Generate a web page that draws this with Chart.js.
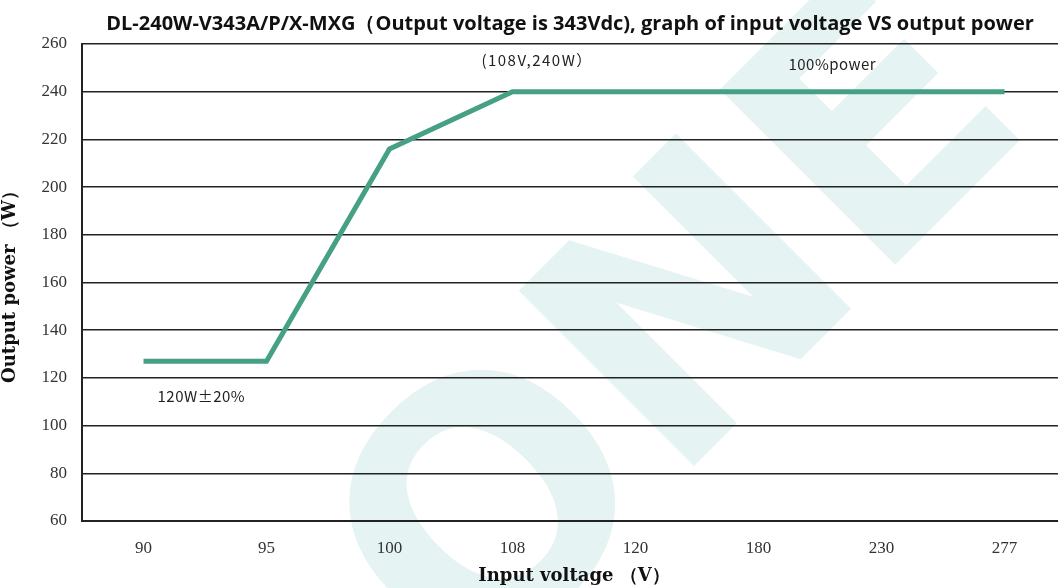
<!DOCTYPE html>
<html lang="en">
<head>
    <meta charset="UTF-8">
    <title>Input voltage VS output power</title>
    <script src="https://cdn.jsdelivr.net/npm/chart.js"></script>
    <style>
        html, body {
            margin: 0;
            padding: 0;
            background: #fff;
            overflow: hidden;
        }
        #wrap {
            width: 1066px;
            height: 588px;
        }
    </style>
</head>
<body>
    <div id="wrap"><canvas id="powerChart"></canvas></div>

    <script>
        // data
        const inputVoltage = ['90', '95', '100', '108', '120', '180', '230', '277'];
        const outputPower = [127, 127, 216, 240, 240, 240, 240, 240];
        const yTicks = [60, 80, 100, 120, 140, 160, 180, 200, 220, 240, 260];

        // notes on the plot: text, category position, value
        const noteText = ['(108V,240W）', '100%power', '120W±20%'];
        const noteAt = [3.2, 5.6, 0.47];
        const noteValue = [253.3, 251.6, 112.4];

        const titleText = 'DL-240W-V343A/P/X-MXG（Output voltage is 343Vdc), graph of input voltage VS output power';

        const extras = {
            id: 'extras',
            beforeDraw(chart) {
                const ctx = chart.ctx;
                // faint watermark
                ctx.save();
                ctx.translate(690, 345);
                ctx.rotate(-Math.PI / 4);
                ctx.fillStyle = 'rgba(0, 140, 140, 0.10)';
                ctx.font = 'bold 340px "DejaVu Sans"';
                ctx.textAlign = 'center';
                ctx.textBaseline = 'middle';
                ctx.fillText('ONE', 0, 0);
                ctx.restore();
            },
            afterDraw(chart) {
                const ctx = chart.ctx;
                const x = chart.scales.x, y = chart.scales.y;
                ctx.save();
                ctx.fillStyle = '#111';
                ctx.font = 'bold 20px "Open Sans"';
                ctx.textAlign = 'center';
                ctx.textBaseline = 'middle';
                ctx.fillText(titleText, 570, 24);

                ctx.fillStyle = '#222';
                ctx.font = '15px "Noto Sans CJK SC"';
                noteText.forEach((t, i) => {
                    ctx.letterSpacing = i === 0 ? '1.5px' : '0.5px';
                    ctx.fillText(t, x.getPixelForValue(noteAt[i]), y.getPixelForValue(noteValue[i]));
                });
                ctx.restore();
            }
        };

        const ctx = document.getElementById('powerChart').getContext('2d');
        new Chart(ctx, {
            type: 'line',
            data: {
                labels: inputVoltage,
                datasets: [{
                    label: 'Output power',
                    data: outputPower,
                    borderColor: '#45a085',
                    borderWidth: 5,
                    pointRadius: 0,
                    fill: false,
                    tension: 0
                }]
            },
            options: {
                responsive: true,
                maintainAspectRatio: false,
                animation: false,
                layout: { padding: { top: 44, left: 0, right: 0, bottom: 0 } },
                plugins: {
                    legend: { display: false },
                    tooltip: { enabled: false }
                },
                scales: {
                    x: {
                        offset: true,
                        afterFit: (s) => { s.height = 67; },
                        grid: { display: false, drawTicks: false },
                        border: { display: true, color: '#222', width: 2 },
                        ticks: {
                            color: '#333',
                            font: { family: 'Liberation Serif', size: 17 },
                            padding: 17
                        },
                        title: {
                            display: true,
                            text: 'Input voltage （V）',
                            color: '#111',
                            font: { family: 'DejaVu Serif', size: 18, weight: 'bold' },
                            padding: { top: 0, bottom: 1 }
                        }
                    },
                    y: {
                        min: 60,
                        max: 260,
                        afterBuildTicks: (s) => { s.ticks = yTicks.map(v => ({ value: v })); },
                        afterFit: (s) => { s.width = 82; },
                        grid: { color: '#222', lineWidth: 1.5, drawTicks: false },
                        border: { display: true, color: '#222', width: 2 },
                        ticks: {
                            color: '#333',
                            font: { family: 'Liberation Serif', size: 17 },
                            padding: 15
                        },
                        title: {
                            display: true,
                            text: 'Output power （W）',
                            color: '#111',
                            font: { family: 'DejaVu Serif', size: 18, weight: 'bold' },
                            padding: { top: 0, bottom: 2 }
                        }
                    }
                }
            },
            plugins: [extras]
        });
    </script>
</body>
</html>
